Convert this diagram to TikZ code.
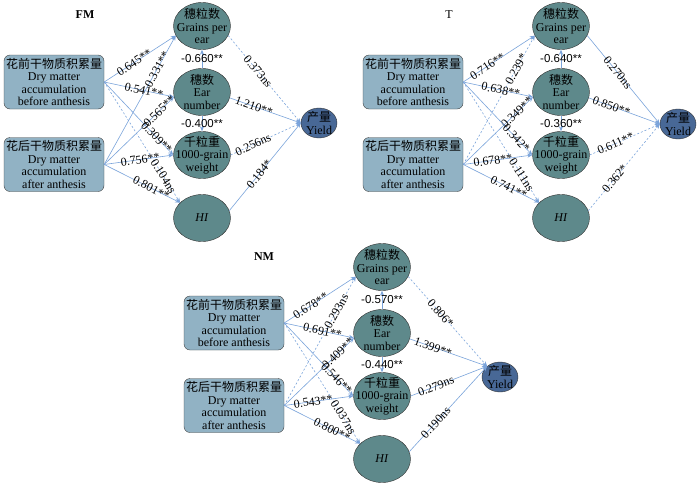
\documentclass[tikz,border=0pt]{standalone}
\usepackage{fontspec}
\setmainfont{Liberation Serif}
\setsansfont{Liberation Sans}
\newfontfamily\cjk{Noto Sans CJK SC}
\usetikzlibrary{shapes.geometric,arrows.meta}
\definecolor{boxblue}{RGB}{145,178,196}
\definecolor{traitteal}{RGB}{94,137,139}
\definecolor{yieldblue}{RGB}{72,104,150}
\definecolor{pathblue}{RGB}{122,163,218}
\tikzset{
  dm/.style={draw=black!75,fill=boxblue,rounded corners=6pt,minimum width=100pt,minimum height=54pt,inner sep=0pt,align=center,font=\fontsize{12}{12.4}\selectfont},
  trait/.style={ellipse,draw=black!80,fill=traitteal,minimum width=57pt,minimum height=47pt,inner sep=-7pt,align=center,font=\fontsize{12}{12.4}\selectfont},
  yld/.style={ellipse,draw=black!80,fill=yieldblue,minimum width=36pt,minimum height=30pt,inner sep=-5pt,align=center,font=\fontsize{12}{12.4}\selectfont},
  pth/.style={draw=pathblue,line width=0.6pt,-{Stealth[length=5pt,width=4pt]}},
  nsp/.style={pth,dash pattern=on 2pt off 2pt},
  coef/.style={sloped,inner sep=0.5pt,font=\fontsize{12}{12}\selectfont},
  corr/.style={inner sep=0.5pt,font=\sffamily\fontsize{11.5}{11.5}\selectfont},
  ttl/.style={font=\bfseries\fontsize{12}{12}\selectfont}
}
\begin{document}
\begin{tikzpicture}[x=1pt,y=-1pt]
\useasboundingbox (0,0) rectangle (700,490);

% FM
\node[ttl] (fmT) at (85,15) {FM};
\node[dm] (fmPre) at (54,82) {{\cjk 花前干物质积累量}\\Dry matter\\accumulation\\before anthesis};
\node[dm] (fmPost) at (54,164.5) {{\cjk 花后干物质积累量}\\Dry matter\\accumulation\\after anthesis};
\node[trait] (fmGpe) at (202,26) {{\cjk 穗粒数}\\Grains per\\ear};
\node[trait] (fmEn) at (202,92) {{\cjk 穗数}\\Ear\\number};
\node[trait] (fmTgw) at (202,155) {{\cjk 千粒重}\\1000-grain\\weight};
\node[trait] (fmHi) at (202,218) {\textit{HI}};
\node[yld] (fmY) at (319,123) {{\cjk 产量}\\Yield};
\draw[pth] (fmPre.east) -- node[coef,pos=0.42]{0.645**} (fmGpe.200);
\draw[pth] (fmPost.east) -- node[coef,pos=0.74]{0.331**} (fmGpe.200);
\draw[pth] (fmPre.east) -- node[coef,pos=0.57]{0.541**} (fmEn.190);
\draw[pth] (fmPost.east) -- node[coef,pos=0.79]{0.565**} (fmEn.190);
\draw[pth] (fmPre.east) -- node[coef,pos=0.76]{0.309**} (fmTgw.west);
\draw[pth] (fmPost.east) -- node[coef,pos=0.52]{0.756**} (fmTgw.west);
\draw[nsp] (fmPre.east) -- node[coef,pos=0.78]{0.104ns} (fmHi.145);
\draw[pth] (fmPost.east) -- node[coef,pos=0.62]{0.801**} (fmHi.145);
\draw[pth] (fmEn) -- node[corr]{-0.660**} (fmGpe);
\draw[pth] (fmEn) -- node[corr]{-0.400**} (fmTgw);
\draw[nsp] (fmGpe.-20) -- node[coef,pos=0.41]{0.373ns} (fmY.west);
\draw[pth] (fmEn.-12) -- node[coef,pos=0.34]{1.210**} (fmY.west);
\draw[nsp] (fmTgw.east) -- node[coef,pos=0.32]{0.256ns} (fmY.west);
\draw[pth] (fmHi.15) -- node[coef,pos=0.42]{0.184*} (fmY.west);

% T
\begin{scope}[shift={(359,0)}]
\node[ttl,font=\fontsize{12}{12}\selectfont] (tT) at (90,15) {T};
\node[dm] (tPre) at (54,82) {{\cjk 花前干物质积累量}\\Dry matter\\accumulation\\before anthesis};
\node[dm] (tPost) at (54,164.5) {{\cjk 花后干物质积累量}\\Dry matter\\accumulation\\after anthesis};
\node[trait] (tGpe) at (202,26) {{\cjk 穗粒数}\\Grains per\\ear};
\node[trait] (tEn) at (202,92) {{\cjk 穗数}\\Ear\\number};
\node[trait] (tTgw) at (202,155) {{\cjk 千粒重}\\1000-grain\\weight};
\node[trait] (tHi) at (202,218) {\textit{HI}};
\node[yld] (tY) at (319,124) {{\cjk 产量}\\Yield};
\draw[pth] (tPre.east) -- node[coef,pos=0.34]{0.716**} (tGpe.200);
\draw[nsp] (tPost.east) -- node[coef,pos=0.74]{0.239*} (tGpe.200);
\draw[pth] (tPre.east) -- node[coef,pos=0.54]{0.638**} (tEn.190);
\draw[pth] (tPost.east) -- node[coef,pos=0.77]{0.349**} (tEn.190);
\draw[pth] (tPre.east) -- node[coef,pos=0.77]{0.342*} (tTgw.west);
\draw[pth] (tPost.east) -- node[coef,pos=0.43]{0.678**} (tTgw.west);
\draw[nsp] (tPre.east) -- node[coef,pos=0.77]{0.111ns} (tHi.145);
\draw[pth] (tPost.east) -- node[coef,pos=0.6]{0.741**} (tHi.145);
\draw[pth] (tEn) -- node[corr]{-0.640**} (tGpe);
\draw[pth] (tEn) -- node[corr]{-0.360**} (tTgw);
\draw[pth] (tGpe.-20) -- node[coef,pos=0.42]{0.270ns} (tY.west);
\draw[pth] (tEn.-12) -- node[coef,pos=0.32]{0.850**} (tY.west);
\draw[nsp] (tTgw.east) -- node[coef,pos=0.37]{0.611**} (tY.west);
\draw[nsp] (tHi.15) -- node[coef,pos=0.37]{0.362*} (tY.west);
\end{scope}

% NM
\begin{scope}[shift={(180,241)}]
\node[ttl] (nmT) at (84,16) {NM};
\node[dm] (nmPre) at (54,82) {{\cjk 花前干物质积累量}\\Dry matter\\accumulation\\before anthesis};
\node[dm] (nmPost) at (54,164.5) {{\cjk 花后干物质积累量}\\Dry matter\\accumulation\\after anthesis};
\node[trait] (nmGpe) at (202,26) {{\cjk 穗粒数}\\Grains per\\ear};
\node[trait] (nmEn) at (202,92) {{\cjk 穗数}\\Ear\\number};
\node[trait] (nmTgw) at (202,155) {{\cjk 千粒重}\\1000-grain\\weight};
\node[trait] (nmHi) at (202,218) {\textit{HI}};
\node[yld] (nmY) at (320,136) {{\cjk 产量}\\Yield};
\draw[pth] (nmPre.east) -- node[coef,pos=0.37]{0.678**} (nmGpe.200);
\draw[nsp] (nmPost.east) -- node[coef,pos=0.73]{0.293ns} (nmGpe.200);
\draw[pth] (nmPre.east) -- node[coef,pos=0.55]{0.691**} (nmEn.190);
\draw[pth] (nmPost.east) -- node[coef,pos=0.77]{0.409**} (nmEn.190);
\draw[pth] (nmPre.east) -- node[coef,pos=0.76]{0.546**} (nmTgw.west);
\draw[pth] (nmPost.east) -- node[coef,pos=0.42]{0.543**} (nmTgw.west);
\draw[nsp] (nmPre.east) -- node[coef,pos=0.78]{0.037ns} (nmHi.145);
\draw[pth] (nmPost.east) -- node[coef,pos=0.63]{0.800**} (nmHi.145);
\draw[pth] (nmEn) -- node[corr]{-0.570**} (nmGpe);
\draw[pth] (nmEn) -- node[corr]{-0.440**} (nmTgw);
\draw[nsp] (nmGpe.-20) -- node[coef,pos=0.41]{0.806*} (nmY.north west);
\draw[pth] (nmEn.-12) -- node[coef,pos=0.30]{1.399**} (nmY.north west);
\draw[pth] (nmTgw.east) -- node[coef,pos=0.33]{0.279ns} (nmY.north west);
\draw[pth] (nmHi.15) -- node[coef,pos=0.34]{0.190ns} (nmY.north west);
\end{scope}
\end{tikzpicture}
\end{document}
